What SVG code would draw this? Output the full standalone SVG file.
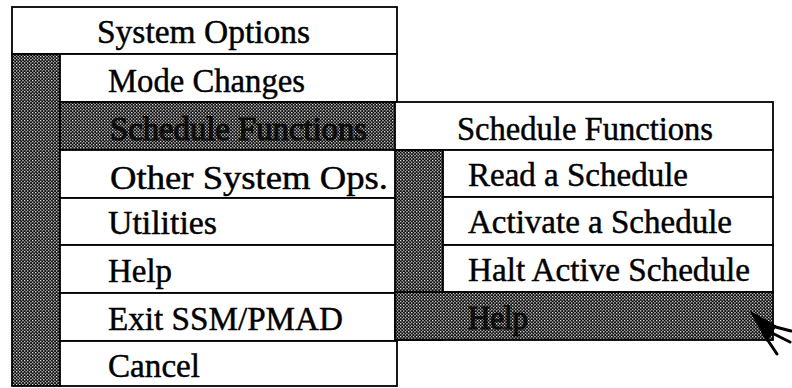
<svg xmlns="http://www.w3.org/2000/svg" width="792" height="388" viewBox="0 0 792 388">
  <defs>
    <!-- halftone used for the shadow bar and highlighted rows -->
    <pattern id="dither" width="4" height="4" patternUnits="userSpaceOnUse" patternTransform="scale(0.8)">
      <rect width="4" height="4" fill="#0a0a0a"/>
      <rect x="0" y="0" width="1.5" height="1.5" fill="#fff"/>
      <rect x="2" y="2" width="1.5" height="1.5" fill="#fff"/>
    </pattern>
  </defs>
  <style>
    .box { fill: #fff; stroke: #000; stroke-width: 1.8; }
    .shade { fill: url(#dither); stroke: #000; stroke-width: 1.8; }
    .lbl { font-family: "Liberation Serif", "Times New Roman", serif; font-size: 33px; fill: #000; stroke: #000; stroke-width: 0.45; }
    .hl { fill: #000; stroke: #000; stroke-width: 1.2; opacity: 0.82; }
  </style>

  <rect width="792" height="388" fill="#fff"/>

  <!-- main menu -->
  <g id="system-options-menu">
    <g id="system-options-title">
      <rect class="box" x="12" y="7" width="385" height="47"/>
      <text class="lbl" x="97" y="43" textLength="213" lengthAdjust="spacingAndGlyphs">System Options</text>
    </g>
    <rect id="main-shadow" class="shade" x="12" y="54" width="48" height="332"/>
    <g id="mode-changes">
      <rect class="box" x="60" y="54" width="337" height="48"/>
      <text class="lbl" x="108" y="92" textLength="197" lengthAdjust="spacingAndGlyphs">Mode Changes</text>
    </g>
    <g id="schedule-functions-item">
      <rect class="shade" x="60" y="102" width="337" height="48"/>
      <text class="lbl hl" x="110" y="140" textLength="257" lengthAdjust="spacingAndGlyphs">Schedule Functions</text>
    </g>
    <g id="other-system-ops">
      <rect class="box" x="60" y="150" width="337" height="48"/>
      <text class="lbl" x="110" y="189" textLength="278" lengthAdjust="spacingAndGlyphs">Other System Ops.</text>
    </g>
    <g id="utilities">
      <rect class="box" x="60" y="198" width="337" height="47"/>
      <text class="lbl" x="108" y="234" textLength="109" lengthAdjust="spacingAndGlyphs">Utilities</text>
    </g>
    <g id="help-main">
      <rect class="box" x="60" y="245" width="337" height="48"/>
      <text class="lbl" x="108" y="282" textLength="64" lengthAdjust="spacingAndGlyphs">Help</text>
    </g>
    <g id="exit-ssm-pmad">
      <rect class="box" x="60" y="293" width="337" height="48"/>
      <text class="lbl" x="108" y="330" textLength="235" lengthAdjust="spacingAndGlyphs">Exit SSM/PMAD</text>
    </g>
    <g id="cancel">
      <rect class="box" x="60" y="341" width="337" height="45"/>
      <text class="lbl" x="108" y="377" textLength="92" lengthAdjust="spacingAndGlyphs">Cancel</text>
    </g>
  </g>

  <!-- schedule functions submenu -->
  <g id="schedule-functions-menu">
    <g id="schedule-functions-title">
      <rect class="box" x="395" y="102" width="378" height="48"/>
      <text class="lbl" x="457" y="140" textLength="256" lengthAdjust="spacingAndGlyphs">Schedule Functions</text>
    </g>
    <rect id="sub-shadow" class="shade" x="395" y="150" width="48" height="190"/>
    <g id="read-schedule">
      <rect class="box" x="443" y="150" width="330" height="47"/>
      <text class="lbl" x="468" y="186" textLength="220" lengthAdjust="spacingAndGlyphs">Read a Schedule</text>
    </g>
    <g id="activate-schedule">
      <rect class="box" x="443" y="197" width="330" height="48"/>
      <text class="lbl" x="468" y="233" textLength="264" lengthAdjust="spacingAndGlyphs">Activate a Schedule</text>
    </g>
    <g id="halt-schedule">
      <rect class="box" x="443" y="245" width="330" height="47"/>
      <text class="lbl" x="468" y="281" textLength="282" lengthAdjust="spacingAndGlyphs">Halt Active Schedule</text>
    </g>
    <g id="help-sub">
      <rect class="shade" x="395" y="292" width="378" height="48"/>
      <text class="lbl hl" x="468" y="329" textLength="60" lengthAdjust="spacingAndGlyphs">Help</text>
    </g>
  </g>

  <!-- mouse pointer -->
  <g id="pointer" fill="#000" stroke="#000" stroke-linecap="round">
    <polygon points="751,312 776,326 767,341" stroke-width="1"/>
    <line x1="768" y1="325" x2="791" y2="331" stroke-width="3"/>
    <line x1="768" y1="331" x2="790" y2="342" stroke-width="3"/>
    <line x1="765" y1="336" x2="777" y2="354" stroke-width="3"/>
  </g>
</svg>
